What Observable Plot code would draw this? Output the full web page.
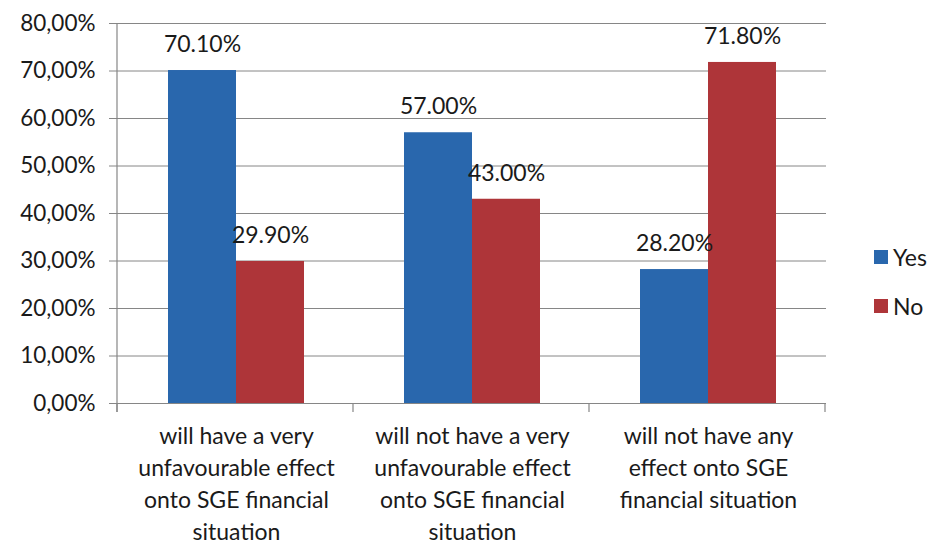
<!DOCTYPE html>
<html>
<head>
<meta charset="utf-8">
<script src="https://cdn.jsdelivr.net/npm/d3@7"></script>
<script src="https://cdn.jsdelivr.net/npm/@observablehq/plot@0.6"></script>
<style>
  body { margin: 0; background: #fff; font-family: Lato, "Open Sans", sans-serif; }
  #wrap { position: relative; width: 933px; height: 546px; }
  #legend { position: absolute; left: 874px; top: 243px; font-size: 23px; color: #1a1a1a; line-height: 1; }
  .item { display: flex; align-items: center; height: 28px; margin-bottom: 21px; }
  .sw { width: 14px; height: 14px; margin-right: 5px; }
</style>
</head>
<body>
<div id="wrap"><div id="legend"></div></div>
<script>
const categories = [
  "will have a very unfavourable effect onto SGE financial situation",
  "will not have a very unfavourable effect onto SGE financial situation",
  "will not have any effect onto SGE financial situation"
];
const tickLabels = [
  "will have a very\nunfavourable effect\nonto SGE financial\nsituation",
  "will not have a very\nunfavourable effect\nonto SGE financial\nsituation",
  "will not have any\neffect onto SGE\nfinancial situation"
];
const series = ["Yes", "No"];
const yesValues = [70.1, 57.0, 28.2];
const noValues = [29.9, 43.0, 71.8];
const yTicks = [0, 10, 20, 30, 40, 50, 60, 70, 80];
const colors = ["#2967ad", "#ae3539"];

const data = [];
categories.forEach((c, i) => {
  data.push({category: c, series: "Yes", value: yesValues[i]});
  data.push({category: c, series: "No", value: noValues[i]});
});

const grey = "#868686";
const plot = Plot.plot({
  width: 933,
  height: 546,
  marginLeft: 117,
  marginRight: 107,
  marginTop: 23,
  marginBottom: 143,
  style: {fontFamily: "Lato, 'Open Sans', sans-serif", color: "#1a1a1a", background: "#fff"},
  fx: {domain: categories, padding: 0, label: null},
  x: {domain: series, paddingInner: 0, paddingOuter: 0.735, axis: null},
  y: {domain: [0, 80], label: null},
  color: {domain: series, range: colors},
  marks: [
    Plot.ruleY(yTicks, {stroke: grey, strokeWidth: 1}),
    Plot.axisY({ticks: yTicks, tickSize: 9, tickPadding: 14, stroke: grey, fontSize: 22.5, fill: "#1a1a1a",
      tickFormat: d => d.toFixed(2).replace(".", ",") + "%", label: null}),
    Plot.axisFx({anchor: "bottom", tickSize: 0, tickPadding: 18, fontSize: 23, lineHeight: 1.39, fill: "#1a1a1a",
      tickFormat: d => tickLabels[categories.indexOf(d)], label: null}),
    Plot.barY(data, {fx: "category", x: "series", y: "value", fill: "series"}),
    Plot.text(data, {fx: "category", x: "series", y: "value", dy: -26, fontSize: 23, fill: "#1a1a1a",
      text: d => d.value.toFixed(2) + "%"}),
    Plot.ruleY([0], {stroke: grey, strokeWidth: 1.2})
  ]
});

// axis line and category boundary ticks, derived from the plot's scales
const fx = plot.scale("fx");
const y = plot.scale("y");
const svg = d3.select(plot);
const g = svg.append("g").attr("stroke", grey).attr("stroke-width", 1.2);
const y0 = y.apply(0), y1 = y.apply(80);
g.append("line").attr("x1", fx.range[0]).attr("x2", fx.range[0]).attr("y1", y0 + 9).attr("y2", y1);
for (let i = 0; i <= categories.length; i++) {
  const xb = fx.range[0] + i * fx.step;
  g.append("line").attr("x1", xb).attr("x2", xb).attr("y1", y0).attr("y2", y0 + 9);
}

document.getElementById("wrap").prepend(plot);

const legend = document.getElementById("legend");
series.forEach((s, i) => {
  const item = document.createElement("div");
  item.className = "item";
  item.innerHTML = `<span class="sw" style="background:${colors[i]}"></span><span>${s}</span>`;
  legend.appendChild(item);
});
</script>
</body>
</html>
